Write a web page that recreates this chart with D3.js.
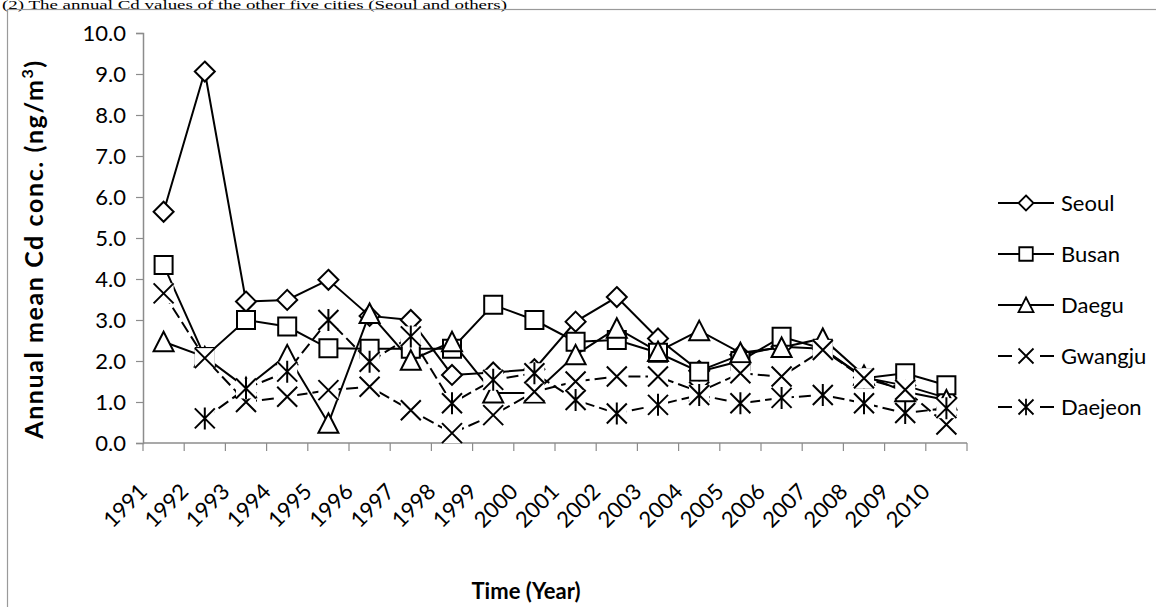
<!DOCTYPE html>
<html>
<head>
<meta charset="utf-8">
<script src="https://cdn.jsdelivr.net/npm/d3@7"></script>
<style>
  body { margin: 0; background: #fff; }
  svg { display: block; }
</style>
</head>
<body>
<svg id="chart"></svg>
<script>
// data
const years = ["1991","1992","1993","1994","1995","1996","1997","1998","1999","2000",
               "2001","2002","2003","2004","2005","2006","2007","2008","2009","2010"];
const seoul   = [5.64, 9.06, 3.45, 3.49, 3.98, 3.10, 3.00, 1.66, 1.72, 1.80, 2.96, 3.56, 2.55, 1.76, 2.15, 2.35, 2.30, 1.60, 1.40, 1.10];
const busan   = [4.34, 2.10, 3.00, 2.84, 2.31, 2.30, 2.30, 2.30, 3.37, 3.00, 2.47, 2.51, 2.20, 1.74, 2.00, 2.59, 2.30, 1.58, 1.70, 1.41];
const daegu   = [2.47, 2.10, 1.35, 2.15, 0.48, 3.16, 2.02, 2.47, 1.22, 1.22, 2.15, 2.80, 2.23, 2.74, 2.20, 2.33, 2.55, 1.65, 1.25, 1.05];
const gwangju = [3.65, 2.07, 1.00, 1.13, 1.29, 1.37, 0.80, 0.24, 0.68, 1.25, 1.50, 1.62, 1.62, 1.25, 1.70, 1.62, 2.27, 1.58, 1.30, 0.45];
const daejeon = [null, 0.60, 1.33, 1.74, 3.00, 1.98, 2.60, 0.97, 1.54, 1.70, 1.05, 0.72, 0.93, 1.17, 0.97, 1.10, 1.17, 0.97, 0.73, 0.85];
const yTicks  = [0,1,2,3,4,5,6,7,8,9,10];

const series = [
  {name: "Seoul",   values: seoul,   marker: "diamond",  dash: null},
  {name: "Busan",   values: busan,   marker: "square",   dash: null},
  {name: "Daegu",   values: daegu,   marker: "triangle", dash: null},
  {name: "Gwangju", values: gwangju, marker: "x",        dash: "12,5"},
  {name: "Daejeon", values: daejeon, marker: "star",     dash: "12,5"}
];

const W = 1156, H = 607;
const font = "Lato, 'Open Sans', sans-serif";
const axisGray = "#8c8c8c";

const svg = d3.select("#chart").attr("width", W).attr("height", H);

svg.append("rect").attr("width", W).attr("height", H).attr("fill", "#fff");

// title squeezed into the strip above the frame
svg.append("text")
    .attr("x", 2).attr("y", 8.5)
    .attr("font-family", "'Liberation Serif', 'Times New Roman', serif")
    .attr("font-size", 11.5)
    .attr("textLength", 505)
    .attr("lengthAdjust", "spacingAndGlyphs")
    .text("(2) The annual Cd values of the other five cities (Seoul and others)");

// chart frame
svg.append("rect")
    .attr("x", 7.5).attr("y", 9.5)
    .attr("width", 1200).attr("height", 700)
    .attr("fill", "none")
    .attr("stroke", "#9a9a9a")
    .attr("stroke-width", 1.2);

const plot = {left: 143, right: 967, top: 33, bottom: 443};

const x = d3.scaleBand().domain(years).range([plot.left, plot.right]);
const y = d3.scaleLinear().domain([0, 10]).range([plot.bottom, plot.top]);

// y axis
const yAxis = svg.append("g")
    .attr("transform", `translate(${plot.left},0)`)
    .call(d3.axisLeft(y).tickValues(yTicks).tickSize(7).tickPadding(10).tickFormat(d3.format(".1f")));
yAxis.select(".domain").attr("stroke", axisGray).attr("stroke-width", 1.5);
yAxis.selectAll(".tick line").attr("stroke", axisGray).attr("stroke-width", 1.2);
yAxis.selectAll(".tick text")
    .attr("font-family", font).attr("font-size", 22).attr("fill", "#000");

// x axis, ticks at category boundaries
const xAxis = svg.append("g")
    .attr("transform", `translate(0,${plot.bottom})`);
xAxis.append("line")
    .attr("x1", plot.left).attr("x2", plot.right)
    .attr("stroke", axisGray).attr("stroke-width", 1.5);
const bounds = years.map(d => x(d)).concat([plot.right]);
xAxis.selectAll(".xt").data(bounds).enter().append("line")
    .attr("class", "xt")
    .attr("x1", d => d).attr("x2", d => d)
    .attr("y1", 0).attr("y2", 8)
    .attr("stroke", axisGray).attr("stroke-width", 1.2);
xAxis.selectAll(".xl").data(years).enter().append("text")
    .attr("class", "xl")
    .attr("transform", d => `translate(${x(d) + x.bandwidth() / 2 - 15},50) rotate(-45)`)
    .attr("text-anchor", "end")
    .attr("font-family", font).attr("font-size", 22)
    .text(d => d);

// axis titles
svg.append("text")
    .attr("x", 526).attr("y", 599)
    .attr("text-anchor", "middle")
    .attr("font-family", font).attr("font-size", 22).attr("font-weight", "bold")
    .text("Time (Year)");

const yt = svg.append("text")
    .attr("transform", "translate(43,249) rotate(-90)")
    .attr("text-anchor", "middle")
    .attr("font-family", font).attr("font-size", 25).attr("font-weight", "bold")
    .attr("letter-spacing", 1.6);
yt.append("tspan").text("Annual mean Cd conc. (ng/m");
yt.append("tspan").attr("dy", -10).attr("font-size", 16).text("3");
yt.append("tspan").attr("dy", 10).text(")");

// marker shapes
function markerPath(type, s) {
  switch (type) {
    case "diamond":  return `M0,${-s}L${s},0L0,${s}L${-s},0Z`;
    case "square":   return `M${-s*0.9},${-s*0.9}H${s*0.9}V${s*0.9}H${-s*0.9}Z`;
    case "triangle": return `M0,${-s}L${s},${s*0.95}L${-s},${s*0.95}Z`;
    case "x":        return `M${-s},${-s}L${s},${s}M${s},${-s}L${-s},${s}`;
    case "star":     return `M${-s},${-s}L${s},${s}M${s},${-s}L${-s},${s}M0,${-s*1.1}V${s*1.1}`;
  }
}
const filled = t => t === "diamond" || t === "square" || t === "triangle";

const line = d3.line()
    .defined(d => d.v != null)
    .x(d => x(d.year) + x.bandwidth() / 2)
    .y(d => y(d.v));

const pointsOf = s => years.map((yr, i) => ({year: yr, v: s.values[i]}));

// all lines first, markers on top
const lines = svg.append("g");
series.forEach(s => {
  lines.append("path")
      .datum(pointsOf(s))
      .attr("d", line)
      .attr("fill", "none")
      .attr("stroke", "#000")
      .attr("stroke-width", 2)
      .attr("stroke-dasharray", s.dash);
});

const marks = svg.append("g");
series.forEach(s => {
  const g = marks.append("g");
  const m = g.selectAll(".m").data(pointsOf(s).filter(d => d.v != null)).enter().append("g")
      .attr("class", "m")
      .attr("transform", d => `translate(${x(d.year) + x.bandwidth() / 2},${y(d.v)})`);
  if (!filled(s.marker)) {
    // cross-type markers get a white box behind them
    m.append("rect").attr("x", -10).attr("y", -10).attr("width", 20).attr("height", 20).attr("fill", "#fff");
  }
  m.append("path")
      .attr("d", markerPath(s.marker, 10))
      .attr("fill", filled(s.marker) ? "#fff" : "none")
      .attr("stroke", "#000")
      .attr("stroke-width", 2);
});

// legend
const legend = svg.append("g");
series.forEach((s, i) => {
  const ly = 203 + i * 51;
  const lg = legend.append("g").attr("transform", `translate(998,${ly})`);
  lg.append("line")
      .attr("x1", 0).attr("x2", 56)
      .attr("stroke", "#000").attr("stroke-width", 2)
      .attr("stroke-dasharray", s.dash ? "14,28,14" : null);
  if (!filled(s.marker)) {
    lg.append("rect").attr("x", 20).attr("y", -8).attr("width", 16).attr("height", 16).attr("fill", "#fff");
  }
  lg.append("path")
      .attr("transform", "translate(28,0)")
      .attr("d", markerPath(s.marker, 7.5))
      .attr("fill", filled(s.marker) ? "#fff" : "none")
      .attr("stroke", "#000").attr("stroke-width", 1.8);
  lg.append("text")
      .attr("x", 63).attr("dy", "0.35em")
      .attr("font-family", font).attr("font-size", 22)
      .text(s.name);
});
</script>
</body>
</html>
